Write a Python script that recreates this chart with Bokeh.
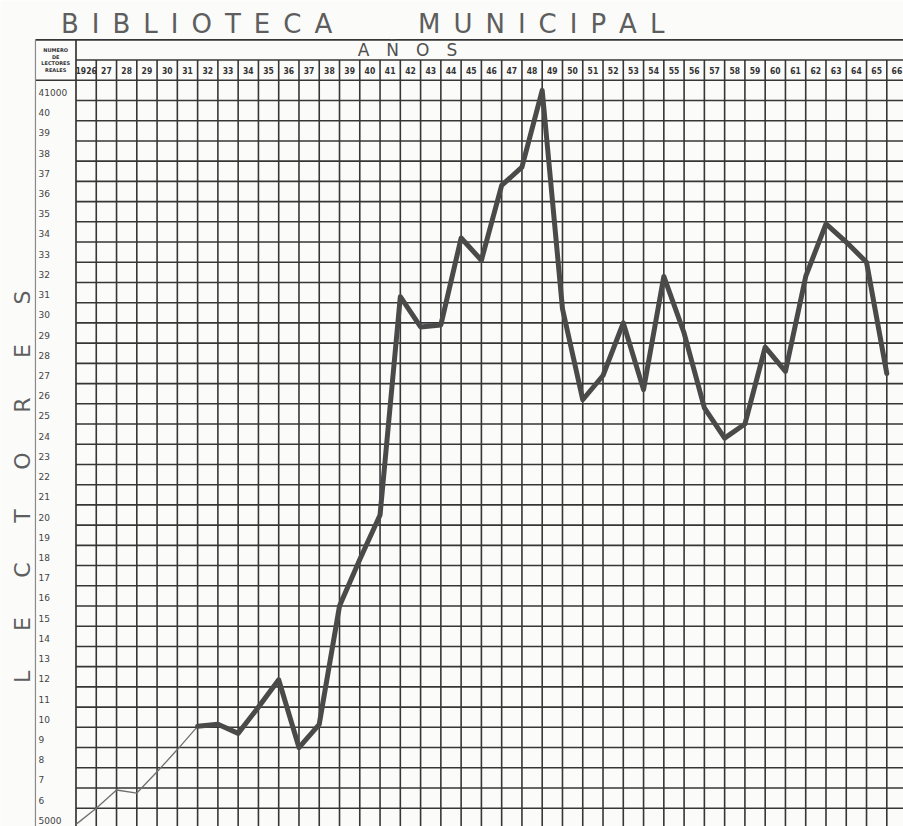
import numpy as np
from bokeh.plotting import figure
from bokeh.models import Range1d
from bokeh.core.properties import value
from bokeh.embed import file_html
from bokeh.resources import INLINE

# ---------------- data (readers, in thousands) ----------------
years = [1926, 1927, 1928, 1929, 1930, 1931, 1932, 1933, 1934, 1935,
         1936, 1937, 1938, 1939, 1940, 1941, 1942, 1943, 1944, 1945,
         1946, 1947, 1948, 1949, 1950, 1951, 1952, 1953, 1954, 1955,
         1956, 1957, 1958, 1959, 1960, 1961, 1962, 1963, 1964, 1965, 1966]
readers = [5.2, 6.0, 6.9, 6.75, 7.8, 8.9, 10.05, 10.15, 9.7, 11.0,
           12.35, 9.0, 10.15, 16.0, 18.3, 20.5, 31.3, 29.8, 29.9, 34.2,
           33.1, 36.8, 37.7, 41.5, 30.7, 26.2, 27.4, 30.0, 26.7, 32.3,
           29.5, 25.8, 24.3, 25.0, 28.8, 27.6, 32.3, 34.9, 34.0, 33.0, 27.5]
thin_count = 7   # first stretch (1926-1932) drawn with a thin pen

year_labels = ["1926", "27", "28", "29", "30", "31", "32", "33", "34", "35",
               "36", "37", "38", "39", "40", "41", "42", "43", "44", "45",
               "46", "47", "48", "49", "50", "51", "52", "53", "54", "55",
               "56", "57", "58", "59", "60", "61", "62", "63", "64", "65", "66"]
y_ticks = [5, 6, 7, 8, 9, 10, 11, 12, 13, 14, 15, 16, 17, 18, 19, 20, 21, 22,
           23, 24, 25, 26, 27, 28, 29, 30, 31, 32, 33, 34, 35, 36, 37, 38, 39,
           40, 41]
y_tick_labels = ["5000", "6", "7", "8", "9", "10", "11", "12", "13", "14", "15",
                 "16", "17", "18", "19", "20", "21", "22", "23", "24", "25",
                 "26", "27", "28", "29", "30", "31", "32", "33", "34", "35",
                 "36", "37", "38", "39", "40", "41000"]

title_left = "B\u2002I\u2002B\u2002L\u2002I\u2002O\u2002T\u2002E\u2002C\u2002A"
title_right = "M\u2002U\u2002N\u2002I\u2002C\u2002I\u2002P\u2002A\u2002L"
header_years = "A\u2003\u00d1\u2003O\u2003S"
header_cell = "NUMERO\nDE\nLECTORES\nREALES"
gap = "\u2003\u2002\u2009\u200a"
side_title = gap.join(list("LECTORES"))

# ---------------- layout (screen scale) ----------------
W, H = 903, 826
PXX, PXY = 20.27, 20.22
x_start = 1926 - 75.5 / PXX
y_end = 41 + 100 / PXY
y_start = y_end - H / PXY

p = figure(width=W, height=H, output_backend="svg", toolbar_location=None,
           x_axis_type=None, y_axis_type=None, min_border=0,
           x_range=Range1d(x_start, x_start + W / PXX),
           y_range=Range1d(y_start, y_end),
           background_fill_color="#fbfbfa", border_fill_color="#fbfbfa",
           outline_line_color=None)

first_year, last_edge = years[0], years[-1] + 1
label_col = first_year - 2
grid_color = "#363636"

# horizontal rules of the grid
hv = np.array(y_ticks, dtype=float)
p.segment(x0=np.full(len(hv), first_year), x1=np.full(len(hv), last_edge),
          y0=hv, y1=hv, line_color=grid_color, line_width=1.6)
# header rules
p.segment(x0=[label_col, label_col, first_year], x1=[last_edge] * 3,
          y0=[42, 44, 43], y1=[42, 44, 43], line_color=grid_color, line_width=1.6)
# vertical rules
vx = np.arange(first_year + 1, last_edge + 1)
p.segment(x0=vx, x1=vx, y0=np.full(len(vx), 43), y1=np.full(len(vx), y_start),
          line_color=grid_color, line_width=1.6)
p.segment(x0=[first_year], x1=[first_year], y0=[44], y1=[y_start],
          line_color=grid_color, line_width=1.7)
p.segment(x0=[label_col], x1=[label_col], y0=[44], y1=[y_start],
          line_color="#8a8a8a", line_width=1.2)

# the readers curve
p.line(years[:thin_count], readers[:thin_count], line_color="#707070", line_width=1.3)
p.line(years[thin_count - 1:], readers[thin_count - 1:], line_color="#4a4a4a",
       line_width=5, line_join="round", line_cap="round")

# y labels (written just above their rule)
p.text(x=np.full(len(y_ticks), label_col + 0.15), y=np.array(y_ticks) + 0.4,
       text=y_tick_labels, text_font=value("DejaVu Sans"), text_font_size="9px",
       text_color="#444444", text_baseline="middle", text_align="left")

# year labels (centred in their columns)
p.text(x=np.array(years) + 0.5, y=np.full(len(years), 42.5), text=year_labels,
       text_font=value("DejaVu Sans Condensed"), text_font_size="8.5px",
       text_font_style="bold", text_color="#333333",
       text_baseline="middle", text_align="center")

# header texts
p.text(x=[1942.35], y=[43.5], text=[header_years], text_font=value("DejaVu Sans"),
       text_font_size="17px", text_color="#505050", text_baseline="middle",
       text_align="center")
p.text(x=[label_col + 1], y=[43.0], text=[header_cell], text_font=value("DejaVu Sans"),
       text_font_size="5px", text_font_style="bold", text_color="#333333",
       text_baseline="middle", text_align="center", text_line_height=1.1)

# title
p.text(x=[1931.95, 1948.95], y=[44.8, 44.8], text=[title_left, title_right],
       text_font=value("DejaVu Sans"), text_font_size="26px", text_color="#5e5e5e",
       text_baseline="middle", text_align="center")

# side title
p.text(x=[1923.35], y=[21.9], text=[side_title], angle=np.pi / 2,
       text_font=value("DejaVu Sans"), text_font_size="22px", text_color="#5e5e5e",
       text_baseline="middle", text_align="center")

open("out.html", "w").write(file_html(p, INLINE))
